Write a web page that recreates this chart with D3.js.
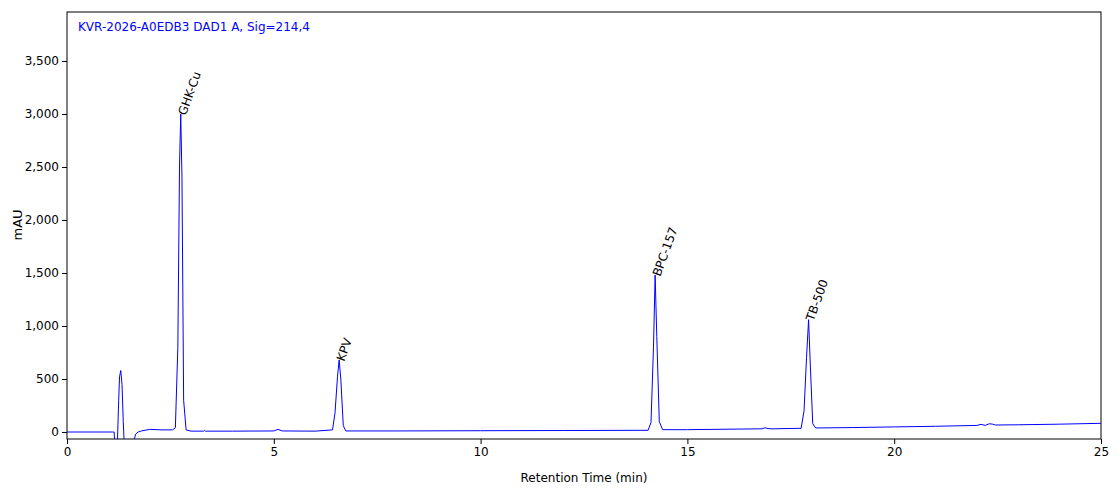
<!DOCTYPE html><html><head><meta charset="utf-8"><script src="https://cdn.jsdelivr.net/npm/d3@7/dist/d3.min.js"></script>
<style>body{margin:0;background:#fff}text{font-family:"DejaVu Sans",sans-serif}</style></head><body><svg id="c" width="1119" height="499"></svg><script>
const times=[0,1.1,1.14,1.15,1.22,1.25,1.27,1.30,1.33,1.36,1.38,1.40,1.62,1.66,1.72,1.8,2.0,2.3,2.55,2.62,2.68,2.72,2.75,2.78,2.82,2.88,3.0,3.3,3.32,3.34,4.0,5.0,5.1,5.2,6.0,6.42,6.48,6.54,6.58,6.62,6.68,6.74,8,10,12,14.05,14.12,14.18,14.22,14.26,14.32,14.4,15,16.8,16.88,16.95,17.05,17.75,17.82,17.88,17.93,17.97,18.03,18.1,19,20,21,22.0,22.1,22.2,22.3,22.38,22.45,23,24,25];
const values=[0,0,0,-80,-80,300,520,580,450,100,-80,-80,-80,-20,0,10,25,20,20,40,800,2500,3000,2400,300,20,8,8,14,8,8,10,25,10,8,20,180,520,680,500,60,10,10,12,14,16,90,800,1480,900,100,22,22,30,40,32,30,35,200,700,1060,650,80,38,42,48,54,62,72,62,78,74,66,68,74,82];
const peaks=[{name:"GHK-Cu",t:2.75,v:3000},{name:"KPV",t:6.58,v:680},{name:"BPC-157",t:14.22,v:1480},{name:"TB-500",t:17.93,v:1060}];
const xTicks=[0,5,10,15,20,25], yTicks=[0,500,1000,1500,2000,2500,3000,3500];
const svg=d3.select("#c");
const x=d3.scaleLinear().domain([0,25]).range([67,1101]);
const y=d3.scaleLinear().domain([-66,3962]).range([439,12]);
svg.append("g").attr("transform","translate(0,439)").call(d3.axisBottom(x).tickValues(xTicks).tickSizeOuter(0).tickSize(5)).selectAll("text").style("font-size","12px");
svg.append("g").attr("transform","translate(67,0)").call(d3.axisLeft(y).tickValues(yTicks).tickSizeOuter(0).tickSize(5)).selectAll("text").style("font-size","12px");
svg.selectAll(".domain").remove();
svg.append("rect").attr("x",67).attr("y",12).attr("width",1034).attr("height",427).attr("fill","none").attr("stroke","#000");
const defs=svg.append("defs");defs.append("clipPath").attr("id","cp").append("rect").attr("x",67).attr("y",12).attr("width",1034).attr("height",427);
svg.append("path").datum(times.map((t,i)=>[t,values[i]])).attr("clip-path","url(#cp)").attr("fill","none").attr("stroke","#0000ff").attr("stroke-width",1).attr("d",d3.line().x(d=>x(d[0])).y(d=>y(d[1])));
peaks.forEach(p=>svg.append("text").attr("transform",`translate(${x(p.t)+5},${y(p.v)+2}) rotate(-70)`).style("font-size","12px").text(p.name));
svg.append("text").attr("x",78).attr("y",31).attr("fill","#0000ff").style("font-size","12px").text("KVR-2026-A0EDB3 DAD1 A, Sig=214,4");
svg.append("text").attr("x",584).attr("y",482).attr("text-anchor","middle").style("font-size","12px").text("Retention Time (min)");
svg.append("text").attr("transform","translate(22,225) rotate(-90)").attr("text-anchor","middle").style("font-size","13px").text("mAU");
</script></body></html>
